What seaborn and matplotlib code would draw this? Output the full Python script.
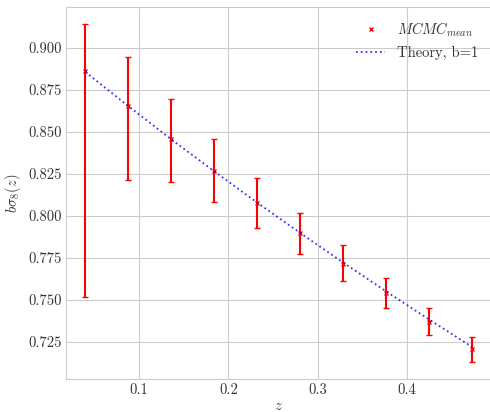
import numpy as np
import pandas as pd
import matplotlib
matplotlib.use("Agg")
import matplotlib.pyplot as plt
from matplotlib.lines import Line2D
import seaborn as sns

# Data
z = [0.040, 0.088, 0.136, 0.184, 0.232, 0.280, 0.328, 0.376, 0.424, 0.472]
mcmc_mean = [0.8858, 0.8650, 0.8454, 0.8264, 0.8075, 0.7897, 0.7711, 0.7539, 0.7370, 0.7208]
err_upper = [0.9138, 0.8945, 0.8696, 0.8458, 0.8223, 0.8015, 0.7824, 0.7630, 0.7452, 0.7280]
err_lower = [0.7515, 0.8213, 0.8201, 0.8082, 0.7930, 0.7774, 0.7614, 0.7452, 0.7292, 0.7131]
theory = [0.8855, 0.8652, 0.8455, 0.8265, 0.8079, 0.7899, 0.7723, 0.7552, 0.7385, 0.7222]

sns.set_style("whitegrid")
plt.rcParams["font.family"] = ["cmr10", "DejaVu Serif"]
plt.rcParams["mathtext.fontset"] = "cm"
plt.rcParams["axes.formatter.use_mathtext"] = True

fig = plt.figure(figsize=(4.9, 4.12), dpi=100)
ax = fig.add_axes([66/490, 1 - 379/412, 1.0 - 66/490 + 0.003, (379 - 7)/412])

df = pd.DataFrame({"z": z, "theory": theory})
mean = np.array(mcmc_mean)
yerr = np.vstack([mean - np.array(err_lower), np.array(err_upper) - mean])

ax.errorbar(z, mcmc_mean, yerr=yerr, fmt="x", color="red", ecolor="red",
            markersize=3.5, markeredgewidth=1.0, elinewidth=1.5, capsize=2,
            capthick=1.2, zorder=3)
sns.lineplot(data=df, x="z", y="theory", ax=ax, color="blue", linestyle=":",
             linewidth=1.3, alpha=0.8, zorder=4, legend=False)

ax.set_xlim(0.0184, 0.4941)
ax.set_ylim(0.7030, 0.9241)
ax.set_xticks([0.1, 0.2, 0.3, 0.4])
ax.set_xticklabels(["0.1", "0.2", "0.3", "0.4"])
yt = [0.725, 0.750, 0.775, 0.800, 0.825, 0.850, 0.875, 0.900]
ax.set_yticks(yt)
ax.set_yticklabels([f"{v:.3f}" for v in yt])
ax.tick_params(labelsize=10.5, colors="#333333", length=0, pad=3)
ax.set_xlabel(r"$z$", fontsize=10.5, color="#333333", labelpad=2)
ax.set_ylabel(r"$b\sigma_8(z)$", fontsize=10.5, color="#333333", labelpad=4)

handles = [
    Line2D([], [], marker="x", linestyle="none", color="red", markersize=3.5,
           markeredgewidth=1.0),
    Line2D([], [], color="blue", linestyle=":", linewidth=1.3, alpha=0.8),
]
leg = ax.legend(handles, [r"$MCMC_{mean}$", "Theory, b=1"], loc="upper right",
                frameon=False, fontsize=10.5, handlelength=2.0)
for t in leg.get_texts():
    t.set_color("#333333")

fig.savefig("out.png", dpi=100)
